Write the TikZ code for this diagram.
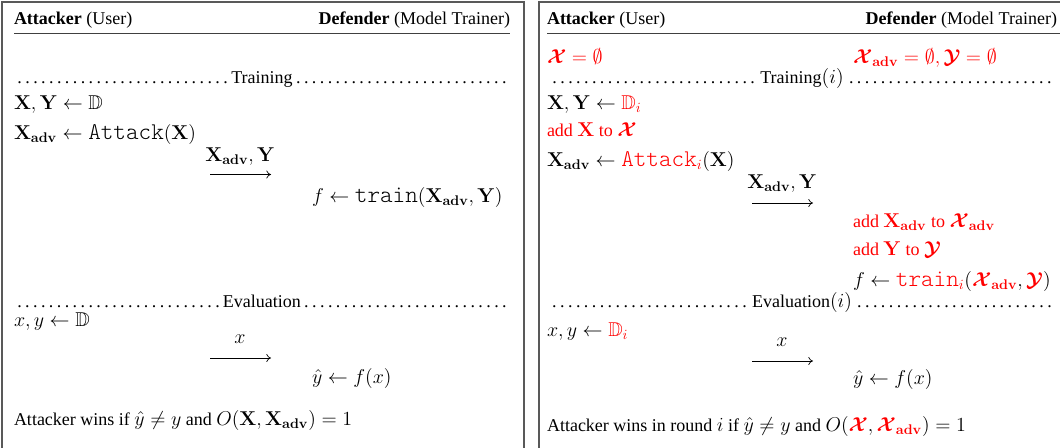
\RequirePackage{fix-cm}
\documentclass[tikz,border=0pt]{standalone}
\usepackage{amsmath,amssymb,bm}
\usepackage[no-math]{fontspec}
\setmainfont[Scale=0.9]{Liberation Serif}
\usetikzlibrary{arrows.meta}
\newcommand{\ttname}[1]{\text{\fontsize{18}{20}\ttfamily\fontseries{l}\selectfont #1}}
\newcommand{\bX}{\mathbf{X}}
\newcommand{\bY}{\mathbf{Y}}
\newcommand{\adv}{\mathbf{adv}}
\newcommand{\cX}{\boldsymbol{\mathcal{X}}}
\newcommand{\cY}{\boldsymbol{\mathcal{Y}}}
\newcommand{\rd}[1]{\textcolor{red}{#1}}
\begin{document}
\begin{tikzpicture}[x=0.75pt,y=-0.75pt,
  every node/.style={inner sep=0pt,outer sep=0pt,font=\fontsize{15}{18}\selectfont},
  lt/.style={anchor=base west},
  rt/.style={anchor=base east},
  ct/.style={anchor=base},
  frame/.style={draw=black!65,line width=0.8pt},
  hrule/.style={draw=black!75,line width=0.7pt},
  msg/.style={draw=black,line width=0.5pt,-{To[length=3.5pt,width=6pt]}}]
\useasboundingbox (0,0) rectangle (1060,448);
% frames
\draw[frame] (2,449) -- (2,2) -- (524,2) -- (524,449);
\draw[frame] (539,449) -- (539,2) -- (1062,2);
% ---------- left panel ----------
\node[lt] (hLa) at (14,25) {\textbf{Attacker} (User)};
\node[rt] (hLd) at (510,25) {\textbf{Defender} (Model Trainer)};
\draw[hrule] (14,33.5) -- (510,33.5);
\node[lt] (trL) at (14,84) {\makebox[372pt]{\dotfill Training\dotfill}};
\node[lt] (l1) at (14,110) {$\bX,\bY\leftarrow\mathbb{D}$};
\node[lt] (l2) at (14,140) {$\bX_{\adv}\leftarrow\ttname{Attack}(\bX)$};
\node[ct] (m1) at (240,162) {$\bX_{\adv},\bY$};
\coordinate (a1s) at (210,174.5);
\coordinate (a1e) at (271,174.5);
\draw[msg] (a1s) -- (a1e);
\node[lt] (l3) at (312,203) {$f\leftarrow\ttname{train}(\bX_{\adv},\bY)$};
\node[lt] (evL) at (14,308) {\makebox[372pt]{\dotfill Evaluation\dotfill}};
\node[lt] (l4) at (14,327) {$x,y\leftarrow\mathbb{D}$};
\node[ct] (m2) at (240,344) {$x$};
\coordinate (a2s) at (210,358);
\coordinate (a2e) at (271,358);
\draw[msg] (a2s) -- (a2e);
\node[lt] (l5) at (312,384) {$\hat{y}\leftarrow f(x)$};
\node[lt] (l6) at (14,426) {Attacker wins if $\hat{y}\neq y$ and $O(\bX,\bX_{\adv})=1$};
% ---------- right panel ----------
\node[lt] (hRa) at (547,25) {\textbf{Attacker} (User)};
\node[rt] (hRd) at (1057,25) {\textbf{Defender} (Model Trainer)};
\draw[hrule] (547,33.5) -- (1060,33.5);
\node[lt,text=red] (r0a) at (547,64) {$\cX=\emptyset$};
\node[lt,text=red] (r0b) at (853,64) {$\cX_{\adv}=\emptyset,\cY=\emptyset$};
\node[lt] (trR) at (547,84) {\makebox[382.5pt]{\dotfill Training$(i)$\dotfill}};
\node[lt] (r1) at (547,110) {$\bX,\bY\leftarrow\rd{\mathbb{D}_i}$};
\node[lt,text=red] (r2) at (547,137) {add $\bX$ to $\cX$};
\node[lt] (r3) at (547,167) {$\bX_{\adv}\leftarrow\rd{\ttname{Attack}_i}(\bX)$};
\node[ct] (m3) at (782,189) {$\bX_{\adv},\bY$};
\coordinate (a3s) at (752,203);
\coordinate (a3e) at (813,203);
\draw[msg] (a3s) -- (a3e);
\node[lt,text=red] (r4) at (853,228) {add $\bX_{\adv}$ to $\cX_{\adv}$};
\node[lt,text=red] (r5) at (853,256) {add $\bY$ to $\cY$};
\node[lt] (r6) at (853,287) {$f\leftarrow\rd{\ttname{train}_i}(\rd{\cX_{\adv}},\rd{\cY})$};
\node[lt] (evR) at (547,308) {\makebox[382.5pt]{\dotfill Evaluation$(i)$\dotfill}};
\node[lt] (r7) at (547,337) {$x,y\leftarrow\rd{\mathbb{D}_i}$};
\node[ct] (m4) at (782,347) {$x$};
\coordinate (a4s) at (752,361);
\coordinate (a4e) at (813,361);
\draw[msg] (a4s) -- (a4e);
\node[lt] (r8) at (853,385) {$\hat{y}\leftarrow f(x)$};
\node[lt] (r9) at (547,432) {Attacker wins in round $i$ if $\hat{y}\neq y$ and $O(\rd{\cX},\rd{\cX_{\adv}})=1$};
\end{tikzpicture}
\end{document}
